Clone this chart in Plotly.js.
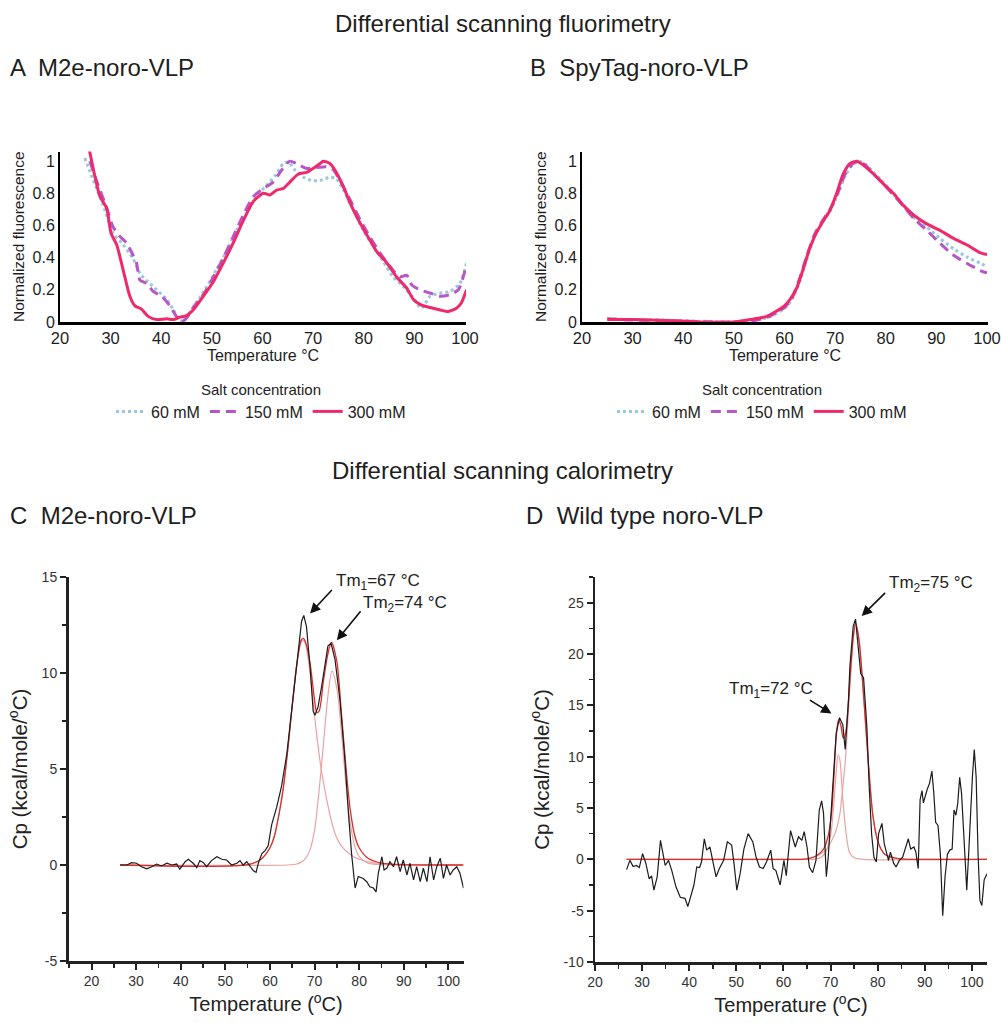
<!DOCTYPE html>
<html>
<head>
<meta charset="utf-8">
<script src="https://cdn.plot.ly/plotly-3.0.1.min.js"></script>
<style>html,body{margin:0;padding:0;background:#fff}#chart{width:1001px;height:1023px}</style>
</head>
<body>
<div id="chart"></div>
<script>
// ---------- Panel A: DSF M2e-noro-VLP ----------
const A_60_T   = [24.9,26.6,28.6,30.5,32.5,34.5,35.8,37.4,39.1,41.1,42.4,43.7,45.0,47.0,49.0,50.9,52.9,54.9,56.9,58.8,60.8,62.5,64.1,65.1,66.4,68.1,69.7,71.4,73.3,74.6,76.0,77.9,79.9,81.9,83.9,85.8,87.8,89.8,91.4,93.1,95.1,97.0,99.0,100.3];
const A_60_V   = [1.02,0.88,0.72,0.55,0.48,0.39,0.30,0.25,0.20,0.14,0.075,0.005,0.035,0.12,0.22,0.325,0.44,0.57,0.675,0.78,0.85,0.91,0.985,0.995,0.945,0.90,0.88,0.88,0.90,0.89,0.82,0.70,0.57,0.47,0.375,0.28,0.22,0.15,0.085,0.16,0.18,0.19,0.24,0.365];
const A_150_T  = [25.9,27.2,29.2,30.5,31.9,33.2,34.5,35.1,35.8,37.1,38.4,40.1,41.7,43.0,44.0,45.0,46.3,48.3,50.3,52.3,54.2,56.2,58.2,60.2,62.1,63.8,65.4,66.7,68.7,70.7,72.7,74.0,75.3,77.3,79.3,81.2,83.2,85.2,87.1,88.5,89.5,91.1,93.1,95.1,97.0,98.7,100.0];
const A_150_V  = [1.0,0.88,0.71,0.59,0.53,0.49,0.41,0.37,0.26,0.24,0.19,0.16,0.10,0.035,0.0,0.025,0.09,0.17,0.28,0.40,0.53,0.665,0.78,0.83,0.87,0.945,1.0,0.985,0.955,0.96,0.965,0.945,0.88,0.76,0.635,0.53,0.43,0.345,0.28,0.29,0.23,0.20,0.18,0.16,0.17,0.20,0.32];
const A_300_T  = [25.8,27.9,29.2,30.1,31.2,32.5,33.8,34.8,36.1,37.4,39.1,41.1,42.4,43.7,45.0,46.3,48.3,50.3,52.3,54.2,56.2,58.2,60.2,61.5,62.8,64.1,65.4,67.1,68.7,70.0,71.4,72.0,73.3,74.6,76.0,77.3,78.6,79.9,81.2,82.5,84.5,86.5,88.5,89.8,91.1,93.1,95.1,96.7,98.3,99.3,100.3];
const A_300_V  = [1.07,0.78,0.71,0.55,0.48,0.32,0.16,0.10,0.08,0.035,0.015,0.02,0.015,0.03,0.04,0.075,0.16,0.25,0.37,0.49,0.63,0.75,0.80,0.79,0.82,0.83,0.87,0.92,0.93,0.955,0.985,1.0,0.985,0.93,0.84,0.74,0.655,0.58,0.51,0.44,0.37,0.28,0.21,0.14,0.11,0.09,0.075,0.065,0.085,0.12,0.20];

// ---------- Panel B: DSF SpyTag-noro-VLP ----------
const B_60_T   = [25,30,36,43,50,53.5,57,60,61.5,63,64.5,66,67.5,69,70.5,72,73.5,74.8,76,77.6,79.5,81.5,83.5,85.5,88.1,90.7,93.4,96.0,98.7,100];
const B_60_V   = [0.02,0.015,0.012,0.005,0.002,0.01,0.03,0.085,0.14,0.25,0.40,0.54,0.62,0.69,0.79,0.91,0.98,1.0,0.98,0.93,0.87,0.80,0.72,0.65,0.59,0.52,0.455,0.405,0.365,0.345];
const B_150_T  = [25,30,36,43,47,52,55,57,60,61.5,63,64.5,66,67.5,69,70.5,72,73.5,74.5,76,77.6,79.5,81.5,83.5,85.5,88.1,90.7,93.4,96.0,98.7,100];
const B_150_V  = [0.02,0.012,0.01,0.003,0.0,0.0,0.015,0.035,0.09,0.15,0.27,0.42,0.55,0.63,0.70,0.80,0.92,0.985,1.0,0.975,0.92,0.86,0.79,0.72,0.645,0.57,0.49,0.415,0.365,0.32,0.305];
const B_300_T  = [25,30.1,36.7,43.3,49.9,53.2,56.5,59.8,61.1,62.4,63.7,65.0,66.4,67.7,69.0,70.3,71.6,72.9,74.3,75.6,77.6,79.5,81.5,83.5,85.5,88.1,90.7,93.4,96.0,98.7,100];
const B_300_V  = [0.015,0.015,0.01,0.0,0.0,0.015,0.035,0.095,0.14,0.21,0.33,0.46,0.56,0.63,0.695,0.80,0.92,0.985,1.0,0.975,0.92,0.86,0.80,0.725,0.665,0.61,0.57,0.52,0.48,0.43,0.42];

// ---------- Panel C: DSC M2e-noro-VLP ----------
const C_raw_T = [26.4,27.9,29.0,30.1,31.2,32.4,33.5,34.6,35.7,36.9,38.0,39.1,39.8,41.0,41.7,42.8,43.6,44.3,45.1,45.8,46.9,48.1,49.2,50.3,51.4,52.6,53.3,54.0,54.8,55.5,56.3,56.9,57.4,58.2,58.9,59.6,60.4,61.5,62.6,63.8,64.9,66.0,67.1,67.6,68.2,69.0,69.7,70.1,70.8,71.6,72.3,73.0,73.7,74.6,75.7,76.8,77.6,78.3,79.1,79.8,80.9,81.7,82.4,83.2,83.8,84.3,85.1,85.6,86.2,86.9,87.7,88.4,89.2,89.9,90.7,91.4,92.2,92.9,93.7,94.4,95.2,95.9,96.7,97.4,98.2,98.9,99.6,100.4,101.1,101.9,102.6,103.4];
const C_raw_V = [0,0,0.12,0.09,-0.09,-0.2,-0.09,0.05,-0.05,0.09,0,0.05,-0.22,0.17,0.3,0.09,-0.14,0.23,0.12,-0.09,0.23,0.43,0.3,0.26,0,0.09,0.23,0,0.17,-0.05,-0.3,-0.38,0.09,0.6,0.75,1.0,2.1,3.0,4.1,5.8,8.1,10.7,12.7,13.0,12.4,10.3,8.0,7.8,8.25,9.3,10.4,11.4,11.55,10.7,8.6,5.5,2.7,0.6,-1.2,-0.6,-0.7,-0.87,-1.13,-1.2,-1.4,-0.43,0.43,-0.26,-0.17,0.17,-0.09,0.43,-0.35,0.26,-0.52,0.09,-0.78,-0.09,-0.87,-0.17,-0.87,0.43,-0.78,-0.09,0.35,-0.7,0,-0.52,-0.26,-0.09,-0.43,-1.2];
const C_fit1_T = [26.4,55,58,60,61,62,63,64,65,66,67,67.5,68,69,70,71,72,73,74,75,76,78,80,83,87,92,103.4];
const C_fit1_V = [0,0.02,0.3,0.9,1.5,2.6,4.0,6.0,8.3,10.4,11.6,11.7,11.5,10.0,7.8,5.8,4.3,3.1,2.1,1.4,1.0,0.55,0.3,0.12,0.04,0,0];
const C_fit2_T = [26.4,64,66,67,68,69,70,71,72,73,73.9,75,76,77,78,79,80,82,85,88,103.4];
const C_fit2_V = [0,0,0.05,0.15,0.35,0.8,1.8,3.8,6.3,8.8,10.1,9.2,7.0,4.3,2.2,1.0,0.45,0.1,0.02,0,0];
const C_sum_T  = [26.4,55,58,60,61,62,63,64,65,66,67,67.5,68,69,70,70.5,71,72,73,73.8,75,76,77,78,79,80,82,85,90,103.4];
const C_sum_V  = [0,0.02,0.3,0.9,1.5,2.6,4.0,6.0,8.3,10.4,11.7,11.8,11.6,10.5,8.6,7.95,8.0,9.6,11.0,11.6,10.6,8.0,5.2,2.9,1.55,0.9,0.35,0.1,0.02,0];

// ---------- Panel D: DSC wild type noro-VLP ----------
const D_raw_T = [26.7,27.4,28.1,28.8,29.4,30.1,30.8,31.5,32.0,32.5,33.2,33.9,34.9,35.6,36.3,37.2,38.1,39.1,39.7,40.3,41.0,41.6,42.2,42.6,43.2,43.7,44.4,45.1,45.7,46.4,47.3,48.1,49.0,49.5,50.1,50.8,51.6,52.5,53.5,54.2,54.9,55.7,56.4,57.3,57.8,58.4,59.3,60.1,60.6,61.5,62.5,63.2,63.9,64.4,65.0,65.5,66.2,66.9,67.6,68.1,68.5,69.1,69.5,70.0,70.6,71.2,71.9,72.6,73.1,73.8,74.1,74.8,75.3,75.9,76.4,77.0,77.7,78.2,78.7,79.2,79.7,80.2,80.9,81.4,81.8,82.3,82.7,83.4,83.9,84.6,85.3,86.0,86.5,87.0,87.7,88.1,88.6,89.0,89.4,89.7,90.1,90.5,91.0,91.5,91.9,92.3,92.8,93.3,93.8,94.3,94.8,95.3,95.8,96.2,96.6,97.0,97.4,97.8,98.3,98.9,99.3,99.7,100.1,100.5,100.9,101.3,101.7,102.1,102.6,103.2];
const D_raw_V = [-1.0,-0.1,-0.7,-0.6,-0.8,0.55,-0.4,-1.9,-1.6,-3.0,-1.7,1.85,-0.6,-0.1,-1.1,-2.7,-3.7,-3.8,-4.6,-3.5,-2.5,-0.75,-0.8,-0.26,2.0,0.9,1.2,-0.4,-1.7,-0.9,-0.1,1.7,1.4,-0.4,-3.0,-1.4,1.0,2.5,1.7,0.2,-0.75,-0.9,-0.26,0.9,-0.9,-1.1,-2.5,-0.1,-1.6,2.8,1.2,2.2,1.85,2.7,1.2,-0.75,-1.3,-0.1,4.8,5.7,4.5,-1.7,0.2,3.8,8.0,12.3,13.8,13.1,10.7,15.5,18.8,22.7,23.4,20.7,18.1,17.7,12.9,7.1,2.5,0.2,-0.26,2.5,3.5,1.5,0.9,-0.1,0.7,-0.4,-0.75,-0.1,0.2,1.2,2.0,1.0,1.2,0.7,-0.9,5.8,6.7,5.5,6.2,6.8,7.4,8.6,6.5,3.6,3.3,0.5,-5.5,-1.7,0.5,0.9,1.0,4.8,4.3,5.5,8.0,6.4,2.2,-3.0,0.5,4.5,8.0,10.7,8.0,0.5,-4.0,-4.5,-2.0,-1.4];
const D_fit1_T = [26.7,65,67,68,69,70,70.7,71.2,71.6,72.0,72.5,73.0,73.5,74.0,75,77,103.2];
const D_fit1_V = [0,0,0.05,0.2,0.7,2.3,5.5,8.5,10.2,9.6,6.5,3.8,1.8,0.7,0.15,0,0];
const D_fit2_T = [26.7,62,65,67,68.5,69.5,70.2,71,71.6,72,72.7,73.2,74,74.8,75.3,76,77,78,79,80,80.5,81.5,82.6,84.7,87,103.2];
const D_fit2_V = [0,0,0.05,0.3,0.7,1.2,1.8,2.6,3.6,4.5,7.5,10,16,21.5,23.0,21.5,16,9.5,4.2,1.8,1.1,0.5,0.2,0.05,0,0];
const D_sum_T  = [26.7,62,65,67,68.5,69.5,70.2,70.7,71.2,71.7,72.2,72.7,73.2,74,74.8,75.3,76,77,78,79,80,81.5,84.7,87,103.2];
const D_sum_V  = [0,0,0.05,0.35,1.0,2.3,4.5,8.0,12.0,13.6,13.0,11.8,12.3,16.8,21.6,23.0,21.5,16,9.5,4.2,1.8,0.5,0.05,0,0];

// ---------- labels ----------
const seriesNames = ['60 mM','150 mM','300 mM'];
const seriesColors = ['#98c8de','#b657c9','#ee2a6b'];
const C_yticks = [-5,0,5,10,15];
const D_yticks = [-10,-5,0,5,10,15,20,25];
const DSC_xticks = [20,30,40,50,60,70,80,90,100];

const W = 1001, H = 1023;
const px = v => v / W;
const py = v => 1 - v / H;

const base = 'Liberation Sans, Arial, sans-serif';

const dsfLine = (i) => {
  const d = [{dash:'dot', width:3}, {dash:'10px,6px', width:3}, {dash:'solid', width:3}][i];
  return {color: seriesColors[i], width: d.width, dash: d.dash, shape:'spline', smoothing:0.6};
};

const traces = [];
const Aset = [[A_60_T,A_60_V],[A_150_T,A_150_V],[A_300_T,A_300_V]];
const Bset = [[B_60_T,B_60_V],[B_150_T,B_150_V],[B_300_T,B_300_V]];
Aset.forEach((s,i) => traces.push({x:s[0], y:s[1], type:'scatter', mode:'lines', name:seriesNames[i], line:dsfLine(i), xaxis:'x', yaxis:'y', legend:'legend', showlegend:true, hoverinfo:'skip'}));
Bset.forEach((s,i) => traces.push({x:s[0], y:s[1], type:'scatter', mode:'lines', name:seriesNames[i], line:dsfLine(i), xaxis:'x2', yaxis:'y2', legend:'legend2', showlegend:true, hoverinfo:'skip'}));

const fitLight = {color:'#eaa4a4', width:1.2, shape:'spline', smoothing:0.8};
const fitRed = {color:'#d8302c', width:1.3, shape:'spline', smoothing:0.8};
const rawLine = {color:'#1c1c1c', width:1.2};
[[C_fit1_T,C_fit1_V,fitLight],[C_fit2_T,C_fit2_V,fitLight],[C_sum_T,C_sum_V,fitRed],[C_raw_T,C_raw_V,rawLine]].forEach(s =>
  traces.push({x:s[0], y:s[1], type:'scatter', mode:'lines', line:s[2], xaxis:'x3', yaxis:'y3', showlegend:false, hoverinfo:'skip'}));
[[D_fit1_T,D_fit1_V,fitLight],[D_fit2_T,D_fit2_V,fitLight],[D_sum_T,D_sum_V,fitRed],[D_raw_T,D_raw_V,rawLine]].forEach(s =>
  traces.push({x:s[0], y:s[1], type:'scatter', mode:'lines', line:s[2], xaxis:'x4', yaxis:'y4', showlegend:false, hoverinfo:'skip'}));

const dsfX = (dom) => ({domain:dom, range:[20,100.2], dtick:10, tick0:0, showline:true, linecolor:'#000', linewidth:2.5, ticks:'', showgrid:false, zeroline:false,
  tickfont:{family:base, size:16.5, color:'#1e1e1e'}, title:{text:'Temperature °C', font:{family:base, size:16, color:'#1e1e1e'}, standoff:1}, automargin:false});
const dsfY = (anchor) => ({domain:[py(322), py(151.5)], range:[0,1.06], tickvals:[0,0.2,0.4,0.6,0.8,1], showline:true, linecolor:'#000', linewidth:2, ticks:'', showgrid:false, zeroline:false, anchor:anchor,
  tickfont:{family:base, size:16, color:'#1e1e1e'}, title:{text:'Normalized fluorescence', font:{family:base, size:15.5, color:'#1e1e1e'}, standoff:4}, automargin:false});

const dscX = (dom, rng, anchor) => ({domain:dom, range:rng, tickvals:DSC_xticks, showline:true, linecolor:'#222', linewidth:2.5, ticks:'outside', ticklen:6, tickwidth:2, tickcolor:'#222',
  minor:{dtick:5, tick0:0, ticks:'outside', ticklen:4, tickwidth:1.5, tickcolor:'#222'},
  showgrid:false, zeroline:false, anchor:anchor, tickfont:{family:base, size:14, color:'#333'},
  title:{text:'Temperature (<sup>o</sup>C)', font:{family:base, size:20, color:'#222'}, standoff:9}, automargin:false});
const dscY = (dom, rng, vals, anchor) => ({domain:dom, range:rng, tickvals:vals, ticktext:vals.map(v => String(v)), showline:true, linecolor:'#222', linewidth:2.5, ticks:'outside', ticklen:6, tickwidth:2, tickcolor:'#222',
  minor:{dtick:2.5, tick0:0, ticks:'outside', ticklen:4, tickwidth:1.5, tickcolor:'#222'},
  showgrid:false, zeroline:false, anchor:anchor, tickfont:{family:base, size:14, color:'#333'},
  title:{text:'Cp (kcal/mole/<sup>o</sup>C)', font:{family:base, size:20.5, color:'#222'}, standoff:9}, automargin:false});

const legendCfg = (cx) => ({x:px(cx), xanchor:'center', y:py(375), yanchor:'top', orientation:'h', bgcolor:'rgba(0,0,0,0)',
  title:{text:'Salt concentration', side:'top center', font:{family:base, size:15, color:'#222'}},
  font:{family:base, size:16, color:'#222'}, itemwidth:30, tracegroupgap:0, itemclick:false});

const ann = (x, y, text, size, extra) => Object.assign({xref:'paper', yref:'paper', x:px(x), y:py(y), text:text, showarrow:false, font:{family:base, size:size, color:'#1e1e1e'}, xanchor:'left', yanchor:'middle'}, extra||{});

const arrow = (xr, yr, tip, tail) => ({xref:xr, yref:yr, x:tip[0], y:tip[1], axref:xr, ayref:yr, ax:tail[0], ay:tail[1], text:'', showarrow:true, arrowhead:2, arrowsize:1.3, arrowwidth:1.6, arrowcolor:'#111'});
const tmText = (xr, yr, x, y, text) => ({xref:xr, yref:yr, x:x, y:y, text:text, showarrow:false, xanchor:'left', yanchor:'middle', font:{family:base, size:17, color:'#222'}});

const layout = {
  width:W, height:H, margin:{l:0,r:0,t:0,b:0}, paper_bgcolor:'#fff', plot_bgcolor:'rgba(0,0,0,0)', showlegend:true,
  xaxis: dsfX([px(60), px(466)]), yaxis: dsfY('x'),
  xaxis2: Object.assign(dsfX([px(582), px(988)]), {anchor:'y2'}), yaxis2: dsfY('x2'),
  xaxis3: dscX([px(68.5), px(463.5)], [14.84,103.4], 'y3'), yaxis3: dscY([py(961), py(577)], [-5,15], C_yticks, 'x3'),
  xaxis4: dscX([px(595), px(987)], [20,103.2], 'y4'), yaxis4: dscY([py(962), py(577)], [-10,27.5], D_yticks, 'x4'),
  legend: legendCfg(261), legend2: legendCfg(762),
  annotations: [
    ann(503, 24, 'Differential scanning fluorimetry', 24, {xanchor:'center'}),
    ann(8, 68, 'A  M2e-noro-VLP', 24),
    ann(528, 68, 'B  SpyTag-noro-VLP', 24),
    ann(503, 470, 'Differential scanning calorimetry', 24, {xanchor:'center'}),
    ann(8, 515, 'C  M2e-noro-VLP', 24),
    ann(524, 515, 'D  Wild type noro-VLP', 24),
    arrow('x3','y3',[69.0,13.1],[74.2,14.4]),
    tmText('x3','y3',74.3,14.75,'Tm<sub>1</sub>=67 °C'),
    arrow('x3','y3',[75.0,11.7],[80.6,13.3]),
    tmText('x3','y3',80.4,13.6,'Tm<sub>2</sub>=74 °C'),
    arrow('x4','y4',[76.6,23.7],[81.9,26.1]),
    tmText('x4','y4',81.9,26.8,'Tm<sub>2</sub>=75 °C'),
    arrow('x4','y4',[70.2,14.2],[65.3,15.6]),
    tmText('x4','y4',48.0,16.5,'Tm<sub>1</sub>=72 °C')
  ]
};

Plotly.newPlot('chart', traces, layout, {staticPlot:true, displayModeBar:false});
</script>
</body>
</html>
